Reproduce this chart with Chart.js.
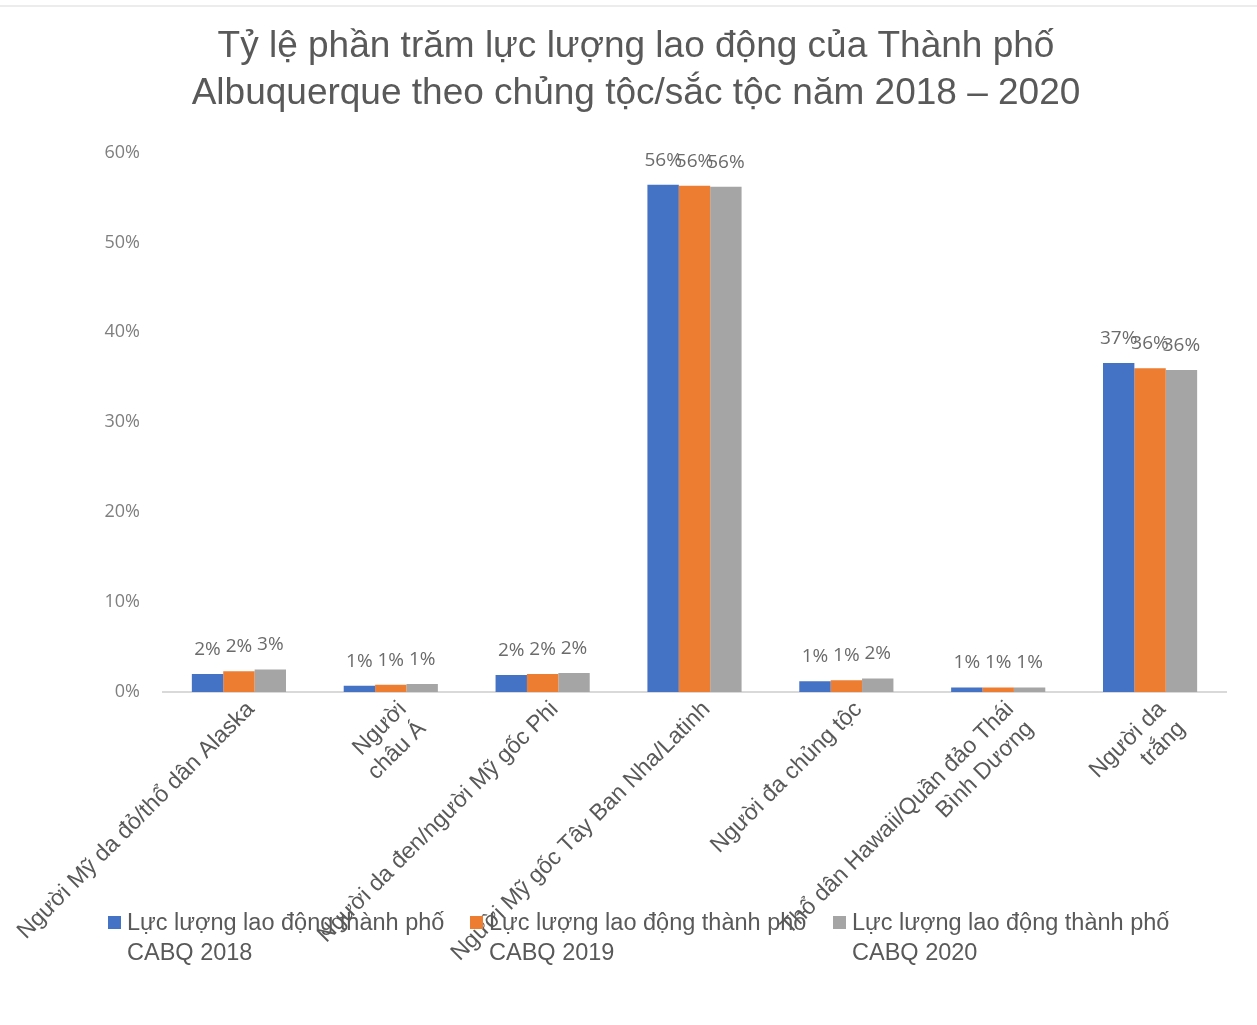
<!DOCTYPE html>
<html>
<head>
<meta charset="utf-8">
<script src="https://cdn.jsdelivr.net/npm/chart.js@4/dist/chart.umd.min.js"></script>
<style>
  body { margin: 0; background: #fff; }
  #wrap { position: relative; width: 1257px; height: 1025px; border-top: 2px solid #ececec; box-sizing: border-box; margin-top: 5px; }
  #legend { position: absolute; top: 900px; left: 0; width: 1257px; font-family: "Liberation Sans", Arial, sans-serif; font-size: 23.5px; color: #595959; }
  .item { position: absolute; line-height: 30px; }
  .box { position: absolute; left: -19px; top: 9px; width: 13px; height: 13px; }
</style>
</head>
<body>
<div id="wrap">
  <canvas id="myChart" width="1257" height="1018"></canvas>
  <div id="legend"></div>
</div>
<script>
var categories = [
  "Người Mỹ da đỏ/thổ dân Alaska",
  ["Người", "châu Á"],
  "Người da đen/người Mỹ gốc Phi",
  "Người Mỹ gốc Tây Ban Nha/Latinh",
  "Người đa chủng tộc",
  ["Thổ dân Hawaii/Quần đảo Thái", "Bình Dương"],
  ["Người da", "trắng"]
];
var seriesNames = [
  "Lực lượng lao động thành phố CABQ 2018",
  "Lực lượng lao động thành phố CABQ 2019",
  "Lực lượng lao động thành phố CABQ 2020"
];
var cabq2018 = [2.0, 0.7, 1.9, 56.4, 1.2, 0.5, 36.6];
var cabq2019 = [2.3, 0.8, 2.0, 56.3, 1.3, 0.5, 36.0];
var cabq2020 = [2.5, 0.9, 2.1, 56.2, 1.5, 0.5, 35.8];
var yTicks = [0, 10, 20, 30, 40, 50, 60];
var colors = ['#4472C4', '#ED7D31', '#A5A5A5'];

var barLabels = {
  id: 'barLabels',
  afterDatasetsDraw: function (chart) {
    var ctx = chart.ctx;
    ctx.save();
    ctx.font = '19px "Open Sans", sans-serif';
    ctx.fillStyle = '#6b6b6b';
    ctx.textAlign = 'center';
    ctx.textBaseline = 'bottom';
    chart.data.datasets.forEach(function (ds, i) {
      var meta = chart.getDatasetMeta(i);
      meta.data.forEach(function (bar, j) {
        ctx.fillText(Math.round(ds.data[j]) + '%', bar.x, bar.y - 15);
      });
    });
    ctx.restore();
  }
};

var ctx = document.getElementById("myChart");
var myChart = new Chart(ctx, {
  type: 'bar',
  data: {
    labels: categories,
    datasets: [
      { label: seriesNames[0], data: cabq2018, backgroundColor: colors[0] },
      { label: seriesNames[1], data: cabq2019, backgroundColor: colors[1] },
      { label: seriesNames[2], data: cabq2020, backgroundColor: colors[2] }
    ]
  },
  options: {
    responsive: false,
    animation: false,
    layout: { padding: { left: 46, right: 31, top: 0, bottom: 0 } },
    datasets: { bar: { barPercentage: 1, categoryPercentage: 0.62 } },
    plugins: {
      legend: { display: false },
      tooltip: { enabled: false },
      title: {
        display: true,
        text: ["Tỷ lệ phần trăm lực lượng lao động của Thành phố", "Albuquerque theo chủng tộc/sắc tộc năm 2018 – 2020"],
        color: '#595959',
        font: { family: '"Liberation Sans", Arial, sans-serif', size: 37, weight: 'normal', lineHeight: 1.25 },
        padding: { top: 17, bottom: 36 }
      }
    },
    scales: {
      x: {
        grid: { display: false },
        border: { color: '#d9d9d9', width: 2 },
        ticks: {
          autoSkip: false,
          minRotation: 45,
          maxRotation: 45,
          padding: -4,
          labelOffset: 12,
          color: '#595959',
          font: { family: '"Liberation Sans", Arial, sans-serif', size: 23 }
        },
        afterFit: function (scale) { scale.height = 333; }
      },
      y: {
        min: 0,
        max: 60,
        grid: { display: false },
        border: { display: false },
        afterBuildTicks: function (scale) {
          scale.ticks = yTicks.map(function (v) { return { value: v }; });
        },
        ticks: {
          padding: 15,
          color: '#7f7f7f',
          font: { family: '"Open Sans", sans-serif', size: 18 },
          callback: function (v) { return v + '%'; }
        },
        afterFit: function (scale) { scale.width = 117; }
      }
    }
  },
  plugins: [barLabels]
});

var legendLeft = [127, 489, 852];
var legendHtml = '';
seriesNames.forEach(function (name, i) {
  var cut = name.lastIndexOf(' CABQ');
  legendHtml += '<div class="item" style="left:' + legendLeft[i] + 'px">' +
    '<span class="box" style="background:' + colors[i] + '"></span>' +
    name.slice(0, cut) + '<br>' + name.slice(cut + 1) + '</div>';
});
document.getElementById('legend').innerHTML = legendHtml;
</script>
</body>
</html>
